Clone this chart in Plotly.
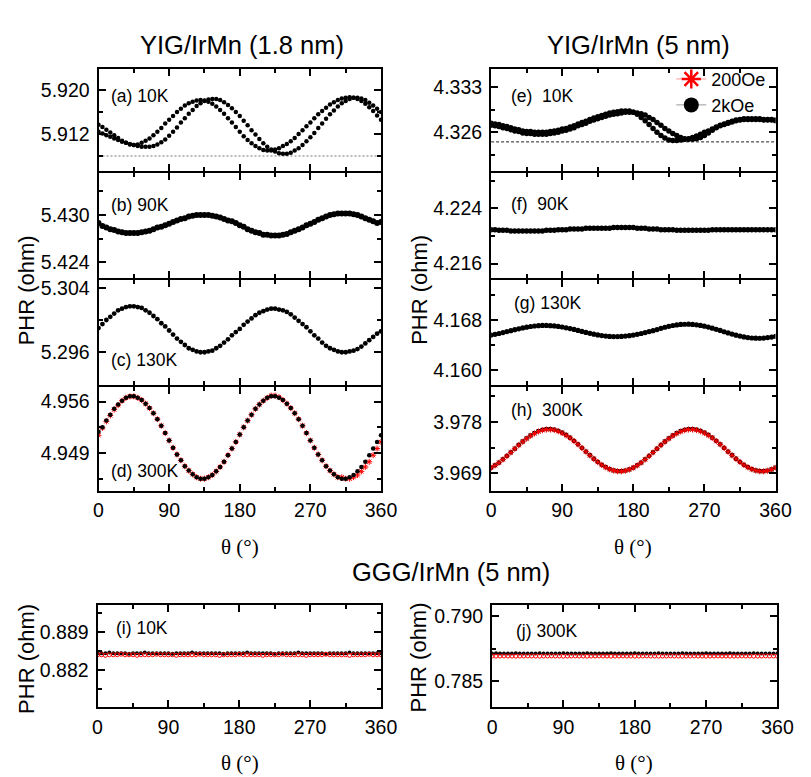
import plotly.graph_objects as go

# ---------------- data ----------------
THETA = [0, 5, 10, 15, 20, 25, 30, 35, 40, 45, 50, 55, 60, 65, 70, 75, 80, 85, 90, 95,
         100, 105, 110, 115, 120, 125, 130, 135, 140, 145, 150, 155, 160, 165, 170, 175,
         180, 185, 190, 195, 200, 205, 210, 215, 220, 225, 230, 235, 240, 245, 250, 255,
         260, 265, 270, 275, 280, 285, 290, 295, 300, 305, 310, 315, 320, 325, 330, 335,
         340, 345, 350, 355, 360]

# (a) YIG/IrMn(1.8nm) 10K, two sweep branches
a_branch1 = [5.9137, 5.9133, 5.9128, 5.9123, 5.9118, 5.9113, 5.9108, 5.9104, 5.9101, 5.9100,
             5.9101, 5.9104, 5.9108, 5.9112, 5.9118, 5.9124, 5.9131, 5.9139, 5.9146, 5.9153,
             5.9160, 5.9166, 5.9172, 5.9176, 5.9179, 5.9181, 5.9182, 5.9181, 5.9179, 5.9175,
             5.9170, 5.9164, 5.9157, 5.9149, 5.9141, 5.9133, 5.9124, 5.9116, 5.9109, 5.9103,
             5.9098, 5.9094, 5.9091, 5.9090, 5.9090, 5.9092, 5.9094, 5.9098, 5.9102, 5.9107,
             5.9113, 5.9120, 5.9127, 5.9134, 5.9141, 5.9149, 5.9156, 5.9162, 5.9168, 5.9174,
             5.9178, 5.9182, 5.9185, 5.9186, 5.9187, 5.9186, 5.9184, 5.9180, 5.9175, 5.9169,
             5.9162, 5.9154, 5.9146]
a_branch2 = [5.9124, 5.9121, 5.9118, 5.9115, 5.9112, 5.9109, 5.9106, 5.9104, 5.9102, 5.9100,
             5.9098, 5.9097, 5.9097, 5.9097, 5.9098, 5.9101, 5.9105, 5.9110, 5.9117, 5.9124,
             5.9132, 5.9141, 5.9149, 5.9157, 5.9164, 5.9171, 5.9176, 5.9180, 5.9183, 5.9184,
             5.9184, 5.9182, 5.9178, 5.9173, 5.9167, 5.9160, 5.9153, 5.9144, 5.9136, 5.9127,
             5.9119, 5.9111, 5.9103, 5.9097, 5.9092, 5.9088, 5.9085, 5.9084, 5.9084, 5.9086,
             5.9090, 5.9094, 5.9100, 5.9107, 5.9114, 5.9122, 5.9131, 5.9139, 5.9148, 5.9156,
             5.9163, 5.9170, 5.9176, 5.9180, 5.9184, 5.9186, 5.9186, 5.9185, 5.9182, 5.9177,
             5.9172, 5.9166, 5.9160]
a_ref_line = 5.908

# (b) 90K
b_2k = [5.4290, 5.4286, 5.4284, 5.4282, 5.4281, 5.4279, 5.4278, 5.4277, 5.4277, 5.4277,
        5.4277, 5.4278, 5.4279, 5.4280, 5.4282, 5.4284, 5.4285, 5.4287, 5.4289, 5.4291,
        5.4293, 5.4295, 5.4296, 5.4298, 5.4299, 5.4300, 5.4300, 5.4300, 5.4300, 5.4299,
        5.4298, 5.4297, 5.4295, 5.4293, 5.4292, 5.4290, 5.4287, 5.4285, 5.4282, 5.4280,
        5.4278, 5.4277, 5.4275, 5.4275, 5.4274, 5.4274, 5.4274, 5.4275, 5.4276, 5.4278,
        5.4280, 5.4282, 5.4284, 5.4287, 5.4289, 5.4291, 5.4294, 5.4296, 5.4298, 5.4300,
        5.4301, 5.4302, 5.4302, 5.4302, 5.4302, 5.4301, 5.4300, 5.4298, 5.4296, 5.4294,
        5.4292, 5.4290, 5.4291]

# (c) 130K
c_2k = [5.2990, 5.2995, 5.3000, 5.3004, 5.3008, 5.3012, 5.3014, 5.3016, 5.3017, 5.3017,
        5.3016, 5.3015, 5.3012, 5.3009, 5.3005, 5.3001, 5.2996, 5.2992, 5.2987, 5.2982,
        5.2977, 5.2973, 5.2969, 5.2965, 5.2963, 5.2961, 5.2960, 5.2960, 5.2961, 5.2962,
        5.2965, 5.2968, 5.2972, 5.2976, 5.2981, 5.2985, 5.2989, 5.2994, 5.2998, 5.3002,
        5.3006, 5.3009, 5.3011, 5.3013, 5.3014, 5.3014, 5.3013, 5.3012, 5.3010, 5.3007,
        5.3003, 5.2999, 5.2995, 5.2991, 5.2986, 5.2981, 5.2977, 5.2972, 5.2968, 5.2965,
        5.2963, 5.2961, 5.2960, 5.2960, 5.2961, 5.2962, 5.2964, 5.2967, 5.2971, 5.2975,
        5.2979, 5.2983, 5.2986]

# (d) 300K
d_2k = [4.9519, 4.9525, 4.9534, 4.9542, 4.9550, 4.9556, 4.9561, 4.9565, 4.9567, 4.9567,
        4.9565, 4.9562, 4.9557, 4.9551, 4.9544, 4.9536, 4.9527, 4.9517, 4.9507, 4.9497,
        4.9488, 4.9480, 4.9472, 4.9466, 4.9461, 4.9457, 4.9455, 4.9455, 4.9457, 4.9460,
        4.9465, 4.9471, 4.9478, 4.9487, 4.9496, 4.9505, 4.9515, 4.9525, 4.9534, 4.9542,
        4.9550, 4.9556, 4.9561, 4.9565, 4.9567, 4.9567, 4.9565, 4.9562, 4.9557, 4.9551,
        4.9544, 4.9536, 4.9527, 4.9517, 4.9507, 4.9497, 4.9488, 4.9480, 4.9472, 4.9466,
        4.9461, 4.9457, 4.9455, 4.9455, 4.9457, 4.9460, 4.9465, 4.9471, 4.9478, 4.9487,
        4.9496, 4.9505, 4.9514]
d_200 = [4.9514, 4.9524, 4.9533, 4.9541, 4.9549, 4.9555, 4.9561, 4.9565, 4.9567, 4.9567,
         4.9565, 4.9562, 4.9557, 4.9551, 4.9544, 4.9536, 4.9527, 4.9517, 4.9507, 4.9497,
         4.9488, 4.9480, 4.9472, 4.9466, 4.9461, 4.9457, 4.9455, 4.9455, 4.9457, 4.9460,
         4.9465, 4.9471, 4.9478, 4.9487, 4.9496, 4.9505, 4.9515, 4.9525, 4.9534, 4.9542,
         4.9550, 4.9556, 4.9561, 4.9565, 4.9568, 4.9568, 4.9566, 4.9562, 4.9557, 4.9551,
         4.9544, 4.9536, 4.9527, 4.9517, 4.9507, 4.9497, 4.9488, 4.9480, 4.9472, 4.9466,
         4.9461, 4.9457, 4.9457, 4.9455, 4.9455, 4.9457, 4.9460, 4.9465, 4.9471, 4.9478,
         4.9487, 4.9496, 4.9505]

# (e) YIG/IrMn(5nm) 10K, two sweep branches
e_branch1 = [4.3274, 4.3273, 4.3272, 4.3270, 4.3269, 4.3267, 4.3265, 4.3264, 4.3262, 4.3261,
             4.3261, 4.3260, 4.3260, 4.3260, 4.3260, 4.3261, 4.3262, 4.3263, 4.3265, 4.3266,
             4.3268, 4.3270, 4.3273, 4.3275, 4.3277, 4.3280, 4.3282, 4.3284, 4.3286, 4.3288,
             4.3290, 4.3291, 4.3292, 4.3293, 4.3293, 4.3293, 4.3291, 4.3288, 4.3283, 4.3278,
             4.3272, 4.3266, 4.3260, 4.3255, 4.3251, 4.3248, 4.3247, 4.3247, 4.3248, 4.3249,
             4.3250, 4.3252, 4.3254, 4.3257, 4.3260, 4.3262, 4.3265, 4.3268, 4.3271, 4.3273,
             4.3275, 4.3277, 4.3279, 4.3280, 4.3281, 4.3281, 4.3281, 4.3281, 4.3281, 4.3280,
             4.3280, 4.3280, 4.3279]
e_branch2 = [4.3271, 4.3270, 4.3269, 4.3267, 4.3266, 4.3264, 4.3262, 4.3261, 4.3259, 4.3258,
             4.3258, 4.3257, 4.3257, 4.3257, 4.3257, 4.3258, 4.3259, 4.3260, 4.3262, 4.3263,
             4.3265, 4.3267, 4.3270, 4.3272, 4.3274, 4.3277, 4.3279, 4.3281, 4.3283, 4.3285,
             4.3287, 4.3288, 4.3289, 4.3290, 4.3291, 4.3291, 4.3291, 4.3290, 4.3289, 4.3287,
             4.3283, 4.3280, 4.3275, 4.3271, 4.3266, 4.3262, 4.3258, 4.3255, 4.3252, 4.3250,
             4.3249, 4.3249, 4.3250, 4.3252, 4.3255, 4.3259, 4.3263, 4.3267, 4.3270, 4.3272,
             4.3274, 4.3276, 4.3278, 4.3279, 4.3280, 4.3280, 4.3280, 4.3280, 4.3280, 4.3279,
             4.3279, 4.3279, 4.3278]
e_ref_line = 4.3245

# (f) 90K
f_2k = [4.2209, 4.2209, 4.2208, 4.2208, 4.2208, 4.2207, 4.2207, 4.2207, 4.2207, 4.2207,
        4.2207, 4.2207, 4.2207, 4.2207, 4.2208, 4.2208, 4.2208, 4.2209, 4.2209, 4.2209,
        4.2210, 4.2210, 4.2210, 4.2210, 4.2211, 4.2211, 4.2211, 4.2211, 4.2211, 4.2211,
        4.2211, 4.2212, 4.2212, 4.2212, 4.2212, 4.2212, 4.2212, 4.2211, 4.2211, 4.2211,
        4.2210, 4.2210, 4.2210, 4.2209, 4.2209, 4.2209, 4.2209, 4.2208, 4.2208, 4.2208,
        4.2208, 4.2208, 4.2208, 4.2208, 4.2208, 4.2208, 4.2209, 4.2209, 4.2209, 4.2209,
        4.2209, 4.2209, 4.2209, 4.2209, 4.2209, 4.2209, 4.2209, 4.2209, 4.2209, 4.2209,
        4.2209, 4.2209, 4.2209]

# (g) 130K
g_2k = [4.16555, 4.16567, 4.16580, 4.16594, 4.16610, 4.16625, 4.16641, 4.16655, 4.16669, 4.16681,
        4.16691, 4.16699, 4.16705, 4.16708, 4.16708, 4.16705, 4.16700, 4.16693, 4.16683, 4.16671,
        4.16658, 4.16644, 4.16628, 4.16613, 4.16597, 4.16583, 4.16569, 4.16557, 4.16547, 4.16539,
        4.16533, 4.16530, 4.16530, 4.16533, 4.16538, 4.16545, 4.16555, 4.16567, 4.16580, 4.16594,
        4.16610, 4.16624, 4.16643, 4.16662, 4.16679, 4.16694, 4.16707, 4.16717, 4.16724, 4.16727,
        4.16728, 4.16725, 4.16718, 4.16709, 4.16697, 4.16682, 4.16665, 4.16647, 4.16628, 4.16608,
        4.16589, 4.16570, 4.16553, 4.16538, 4.16525, 4.16515, 4.16508, 4.16505, 4.16504, 4.16507,
        4.16514, 4.16523, 4.16535]

# (h) 300K
h_2k = [3.96998, 3.97039, 3.97087, 3.97143, 3.97203, 3.97266, 3.97331, 3.97395, 3.97456, 3.97512,
        3.97562, 3.97604, 3.97638, 3.97661, 3.97673, 3.97674, 3.97664, 3.97643, 3.97612, 3.97571,
        3.97523, 3.97467, 3.97407, 3.97344, 3.97279, 3.97215, 3.97154, 3.97098, 3.97048, 3.97006,
        3.96972, 3.96949, 3.96937, 3.96936, 3.96946, 3.96967, 3.96998, 3.97039, 3.97087, 3.97143,
        3.97203, 3.97266, 3.97331, 3.97395, 3.97456, 3.97512, 3.97562, 3.97604, 3.97638, 3.97661,
        3.97673, 3.97674, 3.97664, 3.97643, 3.97612, 3.97571, 3.97523, 3.97467, 3.97407, 3.97344,
        3.97279, 3.97215, 3.97154, 3.97098, 3.97048, 3.97006, 3.96972, 3.96949, 3.96937, 3.96936,
        3.96946, 3.96967, 3.96998]
h_200 = [3.96996, 3.97037, 3.97085, 3.97141, 3.97201, 3.97264, 3.97329, 3.97391, 3.97451, 3.97506,
         3.97555, 3.97596, 3.97630, 3.97653, 3.97665, 3.97666, 3.97656, 3.97635, 3.97604, 3.97564,
         3.97518, 3.97463, 3.97405, 3.97342, 3.97277, 3.97213, 3.97152, 3.97096, 3.97046, 3.97004,
         3.96970, 3.96947, 3.96935, 3.96934, 3.96944, 3.96965, 3.96996, 3.97037, 3.97085, 3.97141,
         3.97201, 3.97264, 3.97329, 3.97391, 3.97451, 3.97506, 3.97555, 3.97596, 3.97630, 3.97653,
         3.97665, 3.97666, 3.97656, 3.97635, 3.97604, 3.97564, 3.97518, 3.97463, 3.97405, 3.97342,
         3.97277, 3.97213, 3.97152, 3.97096, 3.97046, 3.97004, 3.96970, 3.96947, 3.96935, 3.96934,
         3.96944, 3.96965, 3.96996]

# (i) GGG/IrMn 10K
i_2k = [0.8851, 0.8851, 0.8851, 0.8852, 0.8851, 0.8851, 0.8851, 0.8851, 0.8850, 0.8851,
        0.8851, 0.8851, 0.8852, 0.8851, 0.8851, 0.8851, 0.8851, 0.8851, 0.8851, 0.8850,
        0.8851, 0.8851, 0.8851, 0.8851, 0.8852, 0.8851, 0.8851, 0.8851, 0.8851, 0.8851,
        0.8851, 0.8851, 0.8850, 0.8851, 0.8851, 0.8851, 0.8851, 0.8851, 0.8852, 0.8851,
        0.8851, 0.8851, 0.8851, 0.8851, 0.8851, 0.8850, 0.8851, 0.8851, 0.8851, 0.8851,
        0.8851, 0.8852, 0.8851, 0.8851, 0.8851, 0.8851, 0.8851, 0.8851, 0.8850, 0.8851,
        0.8851, 0.8851, 0.8851, 0.8851, 0.8852, 0.8851, 0.8851, 0.8851, 0.8851, 0.8851,
        0.8851, 0.8851, 0.8851]
i_200 = [0.8848, 0.8848, 0.8847, 0.8848, 0.8848, 0.8848, 0.8849, 0.8848, 0.8848, 0.8848,
         0.8847, 0.8848, 0.8848, 0.8848, 0.8848, 0.8849, 0.8848, 0.8848, 0.8848, 0.8848,
         0.8847, 0.8848, 0.8848, 0.8848, 0.8848, 0.8848, 0.8849, 0.8848, 0.8848, 0.8848,
         0.8848, 0.8847, 0.8848, 0.8848, 0.8848, 0.8848, 0.8849, 0.8848, 0.8848, 0.8848,
         0.8848, 0.8848, 0.8847, 0.8848, 0.8848, 0.8848, 0.8848, 0.8849, 0.8848, 0.8848,
         0.8848, 0.8848, 0.8848, 0.8847, 0.8848, 0.8848, 0.8848, 0.8848, 0.8849, 0.8848,
         0.8848, 0.8848, 0.8848, 0.8848, 0.8847, 0.8848, 0.8848, 0.8848, 0.8848, 0.8849,
         0.8848, 0.8848, 0.8848]

# (j) GGG/IrMn 300K
j_2k = [0.78713, 0.78714, 0.78713, 0.78712, 0.78713, 0.78713, 0.78714, 0.78713, 0.78713, 0.78712,
        0.78713, 0.78713, 0.78714, 0.78713, 0.78713, 0.78712, 0.78713, 0.78713, 0.78714, 0.78713,
        0.78713, 0.78712, 0.78713, 0.78713, 0.78714, 0.78713, 0.78713, 0.78712, 0.78713, 0.78713,
        0.78714, 0.78713, 0.78713, 0.78712, 0.78713, 0.78713, 0.78714, 0.78713, 0.78713, 0.78712,
        0.78713, 0.78713, 0.78714, 0.78713, 0.78713, 0.78712, 0.78713, 0.78713, 0.78714, 0.78713,
        0.78713, 0.78712, 0.78713, 0.78713, 0.78714, 0.78713, 0.78713, 0.78712, 0.78713, 0.78713,
        0.78714, 0.78713, 0.78713, 0.78712, 0.78713, 0.78713, 0.78714, 0.78713, 0.78713, 0.78712,
        0.78713, 0.78713, 0.78714]
j_200 = [0.78693, 0.78692, 0.78693, 0.78694, 0.78693, 0.78693, 0.78692, 0.78693, 0.78693, 0.78694,
         0.78693, 0.78693, 0.78692, 0.78693, 0.78693, 0.78694, 0.78693, 0.78693, 0.78692, 0.78693,
         0.78693, 0.78694, 0.78693, 0.78693, 0.78692, 0.78693, 0.78693, 0.78694, 0.78693, 0.78693,
         0.78692, 0.78693, 0.78693, 0.78694, 0.78693, 0.78693, 0.78692, 0.78693, 0.78693, 0.78694,
         0.78693, 0.78693, 0.78692, 0.78693, 0.78693, 0.78694, 0.78693, 0.78693, 0.78692, 0.78693,
         0.78693, 0.78694, 0.78693, 0.78693, 0.78692, 0.78693, 0.78693, 0.78694, 0.78693, 0.78693,
         0.78692, 0.78693, 0.78693, 0.78694, 0.78693, 0.78693, 0.78692, 0.78693, 0.78693, 0.78694,
         0.78693, 0.78693, 0.78692]

# tick values / labels
X_TICKS = [0, 90, 180, 270, 360]
X_TICK_LABELS = ["0", "90", "180", "270", "360"]
X_MINOR = [45, 135, 225, 315]

Y_TICKS = {
    "a": [5.912, 5.920], "b": [5.424, 5.430], "c": [5.296, 5.304], "d": [4.949, 4.956],
    "e": [4.326, 4.333], "f": [4.216, 4.224], "g": [4.160, 4.168], "h": [3.969, 3.978],
    "i": [0.882, 0.889], "j": [0.785, 0.790],
}
Y_TICK_LABELS = {
    "a": ["5.912", "5.920"], "b": ["5.424", "5.430"], "c": ["5.296", "5.304"],
    "d": ["4.949", "4.956"], "e": ["4.326", "4.333"], "f": ["4.216", "4.224"],
    "g": ["4.160", "4.168"], "h": ["3.969", "3.978"], "i": ["0.882", "0.889"],
    "j": ["0.785", "0.790"],
}
Y_MINOR = {
    "a": [5.908, 5.916], "b": [5.427, 5.433], "c": [5.300], "d": [4.9455, 4.9525],
    "e": [4.3225, 4.3295], "f": [4.220, 4.228], "g": [4.164, 4.172], "h": [3.9735, 3.9825],
    "i": [0.8785, 0.8855, 0.8925], "j": [0.7875],
}
Y_RANGE = {
    "a": [5.9052, 5.9239], "b": [5.4220, 5.4353], "c": [5.2920, 5.30497],
    "d": [4.94388, 4.95804], "e": [4.31991, 4.33589], "f": [4.21392, 4.22904],
    "g": [4.15766, 4.17434], "h": [3.96596, 3.98419], "i": [0.87524, 0.89393],
    "j": [0.78302, 0.79085],
}
PANEL_LABELS = {
    "a": "(a) 10K", "b": "(b) 90K", "c": "(c) 130K", "d": "(d) 300K",
    "e": "(e)\u00a0 10K", "f": "(f)\u00a0 90K", "g": "(g) 130K", "h": "(h)\u00a0 300K",
    "i": "(i) 10K", "j": "(j) 300K",
}
LEGEND_NAMES = ["200Oe", "2kOe"]

# ---------------- layout geometry (pixels) ----------------
W, H = 811, 777
def px_x(p): return p / W
def px_y(p): return 1 - p / H

# domain edges in px; axis lines (2 px) are drawn just outside the domain,
# so neighbouring panels leave a 2 px gap that the lines fill.
LEFT_X = [96, 386]
RIGHT_X = [499, 791]
ROWS = [[66, 169], [171, 276], [278, 383], [385, 489.5]]
BOT_Y = [604, 707]
BOT_LEFT_X = [95, 386]
BOT_RIGHT_X = [500, 793]

panels = ["a", "b", "c", "d", "e", "f", "g", "h", "i", "j"]
geom = {}
for idx, key in enumerate(["a", "b", "c", "d"]):
    geom[key] = (LEFT_X, ROWS[idx], idx == 3)
for idx, key in enumerate(["e", "f", "g", "h"]):
    geom[key] = (RIGHT_X, ROWS[idx], idx == 3)
geom["i"] = (BOT_LEFT_X, BOT_Y, True)
geom["j"] = (BOT_RIGHT_X, BOT_Y, True)

label_pos = {
    "a": (107, 93), "b": (107, 203), "c": (107, 358), "d": (107, 470),
    "e": (517, 93), "f": (517, 202), "g": (520, 301), "h": (517, 409),
    "i": (112, 627), "j": (523, 630),
}

SANS = "Liberation Sans, Arial, sans-serif"
SERIF = "Liberation Serif, 'Times New Roman', serif"

fig = go.Figure()

def axis_ids(key):
    n = panels.index(key) + 1
    return ("x" if n == 1 else f"x{n}"), ("y" if n == 1 else f"y{n}"), n

def add(key, y, color="black", symbol="circle", size=4.5):
    xa, ya, _ = axis_ids(key)
    marker = dict(color=color, size=size, symbol=symbol)
    if symbol.endswith("open"):
        marker["line"] = dict(color=color, width=1)
    else:
        marker["line"] = dict(width=0)
    fig.add_trace(go.Scatter(x=THETA, y=y, mode="markers", marker=marker,
                             xaxis=xa, yaxis=ya, showlegend=False, hoverinfo="skip"))

def add_hline(key, value, dash, color):
    xa, ya, _ = axis_ids(key)
    fig.add_trace(go.Scatter(x=[X_TICKS[0], X_TICKS[-1]], y=[value, value], mode="lines",
                             line=dict(color=color, width=1, dash=dash),
                             xaxis=xa, yaxis=ya, showlegend=False, hoverinfo="skip"))

# reference lines
add_hline("a", a_ref_line, "2px,2px", "#777777")
add_hline("e", e_ref_line, "3px,2px", "#222222")

# traces
add("a", a_branch1); add("a", a_branch2)
add("b", b_2k, size=6)
add("c", c_2k, size=4.8)
add("d", d_200, color="red", symbol="asterisk-open", size=5)
add("d", d_2k, size=4.5)
add("e", e_branch1, size=5.5); add("e", e_branch2, size=5.5)
add("f", f_2k, size=5.5)
add("g", g_2k, size=5.2)
add("h", h_2k, size=4.8)
add("h", h_200, color="red", symbol="asterisk-open", size=5)
add("i", i_2k, size=4)
add("i", i_200, color="red", symbol="circle-open", size=4)
add("j", j_2k, size=4)
add("j", j_200, color="red", symbol="circle-open", size=4)

# legend entries (one legend box per entry, to reproduce the wider spacing)
fig.add_trace(go.Scatter(x=[None], y=[None], mode="lines+markers", name=LEGEND_NAMES[0],
                         line=dict(color="rgba(255,110,110,0.7)", width=1),
                         marker=dict(symbol="asterisk-open", size=16, color="red",
                                     line=dict(color="red", width=2.5)),
                         xaxis="x5", yaxis="y5", showlegend=True, legend="legend"))
fig.add_trace(go.Scatter(x=[None], y=[None], mode="lines+markers", name=LEGEND_NAMES[1],
                         line=dict(color="#999999", width=1),
                         marker=dict(symbol="circle", size=15, color="black"),
                         xaxis="x5", yaxis="y5", showlegend=True, legend="legend2"))

leg_common = dict(xanchor="left", yanchor="top", bgcolor="rgba(0,0,0,0)",
                  font=dict(size=18, family=SANS), itemsizing="trace", tracegroupgap=0)
layout = dict(
    width=W, height=H, margin=dict(l=0, r=0, t=0, b=0),
    paper_bgcolor="white", plot_bgcolor="white",
    font=dict(family=SANS, color="black", size=19),
    showlegend=True,
    legend=dict(leg_common, x=px_x(684), y=px_y(58)),
    legend2=dict(leg_common, x=px_x(684), y=px_y(84)),
)

for key in panels:
    xr, yr, show_x = geom[key]
    _, _, n = axis_ids(key)
    xname = "xaxis" if n == 1 else f"xaxis{n}"
    yname = "yaxis" if n == 1 else f"yaxis{n}"
    yaxref = "y" if n == 1 else f"y{n}"
    xaxref = "x" if n == 1 else f"x{n}"
    common = dict(showline=True, linecolor="black", linewidth=2, mirror="allticks",
                  ticks="inside", ticklen=7, tickwidth=1.5, tickcolor="black",
                  showgrid=False, zeroline=False, fixedrange=True,
                  tickfont=dict(size=19.5, family=SANS, color="black"))
    layout[xname] = dict(common, domain=[px_x(xr[0]), px_x(xr[1])], anchor=yaxref,
                         range=[0, 360], tickmode="array", tickvals=X_TICKS,
                         ticktext=X_TICK_LABELS, showticklabels=show_x,
                         ticklabelstandoff=1,
                         minor=dict(tickmode="array", tickvals=X_MINOR, ticks="inside",
                                    ticklen=4, tickwidth=1.5, tickcolor="black"))
    layout[yname] = dict(common, domain=[px_y(yr[1]), px_y(yr[0])], anchor=xaxref,
                         range=Y_RANGE[key], tickmode="array", tickvals=Y_TICKS[key],
                         ticktext=Y_TICK_LABELS[key], ticklabelstandoff=3,
                         minor=dict(tickmode="array", tickvals=Y_MINOR[key], ticks="inside",
                                    ticklen=4, tickwidth=1.5, tickcolor="black"))

annotations = []
for key in panels:
    lx, ly = label_pos[key]
    annotations.append(dict(x=px_x(lx), y=px_y(ly), xref="paper", yref="paper",
                            text=PANEL_LABELS[key], showarrow=False, xanchor="left",
                            yanchor="middle", font=dict(size=17.5, family=SANS)))

titles = [("YIG/IrMn (1.8 nm)", 243, 42), ("YIG/IrMn (5 nm)", 650, 42),
          ("GGG/IrMn (5 nm)", 458, 571)]
for t, tx, ty in titles:
    annotations.append(dict(x=px_x(tx), y=px_y(ty), xref="paper", yref="paper", text=t,
                            showarrow=False, xanchor="center", yanchor="middle",
                            font=dict(size=25.5, family=SANS)))

for tx, ty in [(22, 288), (426, 288), (22, 658), (424, 657)]:
    annotations.append(dict(x=px_x(tx), y=px_y(ty), xref="paper", yref="paper",
                            text="PHR (ohm)", textangle=-90, showarrow=False,
                            xanchor="center", yanchor="middle",
                            font=dict(size=22, family=SANS)))

for tx, ty in [(241, 546), (645, 546), (241, 763), (646, 763)]:
    annotations.append(dict(x=px_x(tx), y=px_y(ty), xref="paper", yref="paper",
                            text="\u03b8 (\u00b0)", showarrow=False,
                            xanchor="center", yanchor="middle",
                            font=dict(size=21, family=SERIF)))

layout["annotations"] = annotations
fig.update_layout(**layout)
fig.write_html("out.html")
